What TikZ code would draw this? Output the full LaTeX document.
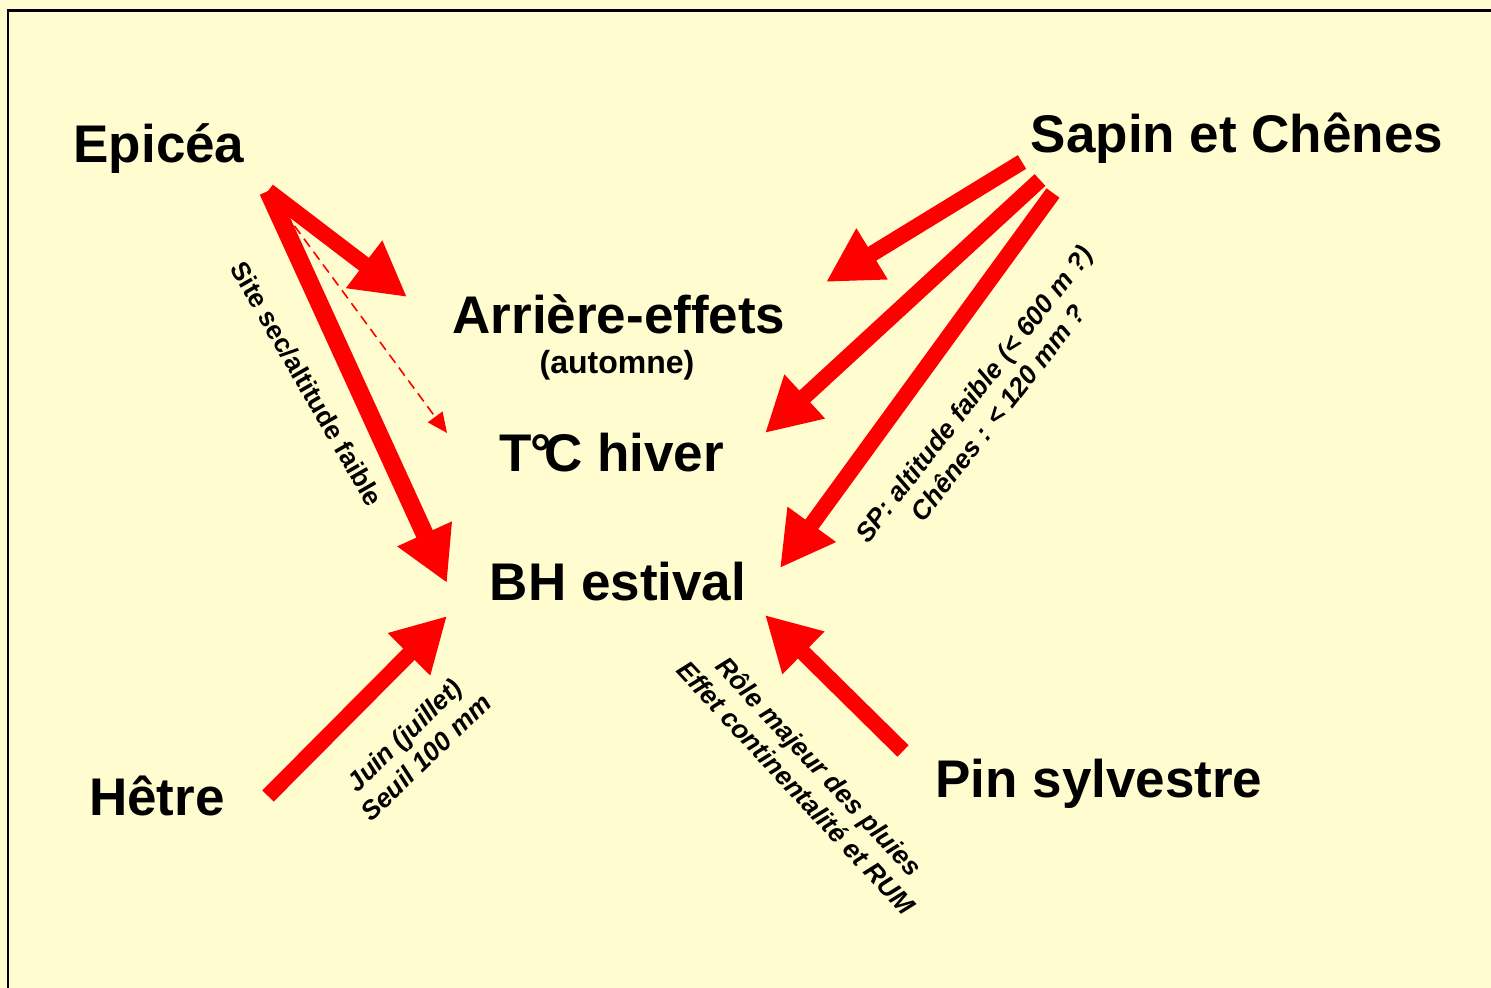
\documentclass[tikz,border=0pt]{standalone}
\usepackage{fontspec}
\setmainfont{Liberation Sans}
\usetikzlibrary{arrows.meta}
\definecolor{paper}{RGB}{255,253,208}
\definecolor{arrowred}{RGB}{255,0,0}
\begin{document}
\begin{tikzpicture}[x=0.5pt,y=-0.5pt,
  big/.style={font=\fontsize{26.5}{30}\selectfont\bfseries, inner sep=0pt},
  sub/.style={font=\fontsize{16}{19}\selectfont\bfseries, inner sep=0pt},
  note/.style={font=\fontsize{13.2}{15.5}\selectfont\bfseries\itshape, align=center, inner sep=0pt},
  upnote/.style={font=\fontsize{13.2}{15.5}\selectfont\bfseries, align=center, inner sep=0pt},
  fat arrow/.style={draw=arrowred, line width=8pt, line cap=butt,
    -{Triangle[length=27pt,width=28pt]}},
  thin arrow/.style={draw=arrowred, line width=0.8pt, dash pattern=on 5pt off 3pt,
    -{Triangle[length=10pt,width=9pt]}}
]
% page and frame
\fill[paper] (0,0) rectangle (1491,988);
\useasboundingbox (0,0) rectangle (1491,988);
\draw[line width=1.1pt, line cap=rect] (8,988) -- (8,10.5) -- (1491,10.5);

% species and variables
\node[big] (epicea) at (159,149) {Epicéa};
\node[big] (sapin)  at (1237,138) {Sapin et Chênes};
\node[big] (hetre)  at (157,796) {Hêtre};
\node[big] (pin)    at (1099,784) {Pin sylvestre};
\node[big] (arriere) at (619,314) {Arrière-effets};
\node[sub] (automne) at (617,365) {(automne)};
\node[big] (tc) at (612,453) {T\kern-0.03em°\kern-0.14em C hiver};
\node[big] (bh) at (618,582) {BH estival};

% arrow ends
\coordinate (epTail) at (268,191);
\coordinate (epDash) at (285,213);
\coordinate (arrTipL) at (407,297);
\coordinate (tcTipL) at (447,433);
\coordinate (bhTipL) at (447,583);
\coordinate (spTailA) at (1022,162);
\coordinate (spTailB) at (1040,180);
\coordinate (spTailC) at (1053,193);
\coordinate (arrTipR) at (826,282);
\coordinate (tcTipR) at (765,433);
\coordinate (bhTipR) at (780,568);
\coordinate (heTail) at (268,796);
\coordinate (bhTipBL) at (447,616);
\coordinate (pinTail) at (903,751);
\coordinate (bhTipBR) at (765,615);

% Epicea
\draw[thin arrow] (epDash) -- (tcTipL);
\draw[fat arrow] (epTail) -- (arrTipL);
\draw[fat arrow, line width=9pt] (epTail) -- (bhTipL);
% Sapin et Chenes
\draw[fat arrow] (spTailA) -- (arrTipR);
\draw[fat arrow] (spTailB) -- (tcTipR);
\draw[fat arrow] (spTailC) -- (bhTipR);
% Hetre and Pin sylvestre
\draw[fat arrow] (heTail) -- (bhTipBL);
\draw[fat arrow] (pinTail) -- (bhTipBR);

% arrow labels
\node[upnote, rotate=-60] (lSite) at (307,384) {Site sec/altitude faible};
\node[note, rotate=52] (lSP) at (986,403) {SP: altitude faible (< 600 m ?)\\Chênes : < 120 mm ?};
\node[note, rotate=44] (lJuin) at (415,746) {Juin (juillet)\\Seuil 100 mm};
\node[note, rotate=-47] (lRole) at (808,777) {Rôle majeur des pluies\\Effet continentalité et RUM};
\end{tikzpicture}
\end{document}
